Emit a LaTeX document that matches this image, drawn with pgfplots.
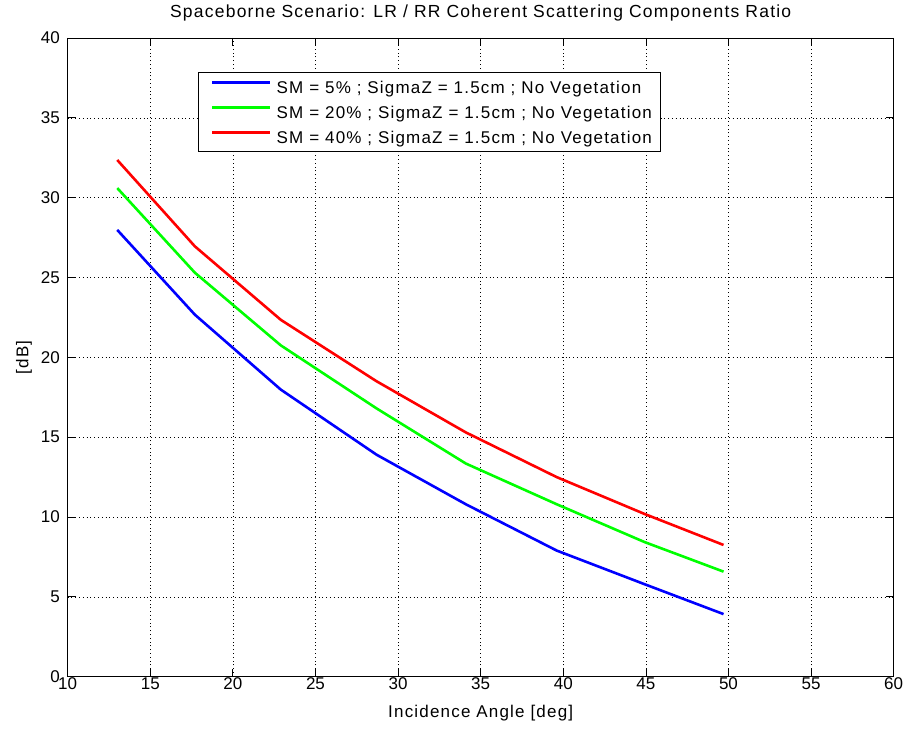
\documentclass[border=0pt]{standalone}
\usepackage{fontspec}
\setmainfont{Liberation Sans}
\newfontfamily\mfont[LetterSpace=7.0]{Liberation Sans}
\usepackage{pgfplots}
\pgfplotsset{compat=1.18}
\begin{document}
\begin{tikzpicture}
\path[use as bounding box] (-67.7pt,-54.3pt) rectangle (835.3pt,676.7pt);
\begin{axis}[
  scale only axis,
  at={(0pt,0pt)}, anchor=south west,
  width=826pt, height=638.7pt,
  xmin=10, xmax=60, ymin=0, ymax=40,
  xtick distance=5, ytick distance=5,
  /pgf/number format/assume math mode=true,
  tick label style={font=\fontsize{17pt}{20pt}\selectfont, inner sep=0pt},
  xticklabel style={yshift=-1pt},
  yticklabel style={xshift=-7.7pt},
  title style={font=\mfont\fontsize{17.5pt}{20pt}\selectfont, inner sep=0pt,
    at={(axis description cs:0.5,1)}, anchor=base, yshift=14.7pt},
  xlabel style={font=\mfont\fontsize{17pt}{20pt}\selectfont, inner sep=0pt,
    at={(axis description cs:0.5,0)}, anchor=base, yshift=-40.6pt},
  ylabel style={font=\mfont\fontsize{17pt}{20pt}\selectfont, inner sep=0pt,
    at={(axis description cs:0,0.5)}, anchor=base, yshift=39.4pt},
  title={Spaceborne Scenario: LR / RR Coherent Scattering Components Ratio},
  xlabel={Incidence Angle [deg]},
  ylabel={[dB]},
  grid=major,
  grid style={black, line width=0.6pt, dash pattern=on 0.8pt off 3pt},
  tick align=inside,
  major tick length=8pt,
  axis line style={black, line width=0.8pt},
  tick style={black, line width=0.8pt},
  legend style={at={(0.158,0.947)}, anchor=north west, draw=black, line width=0.8pt,
    font=\mfont\fontsize{17pt}{20pt}\selectfont, row sep=11pt, column sep=5pt,
    inner xsep=9pt, inner ysep=7.5pt,
    nodes={inner sep=0pt, text height=14pt, text depth=0pt}},
  legend cell align=left,
  legend image code/.code={\path (-3.4pt,0pt); \draw[#1, line width=2.8pt] (0pt,4.5pt) -- (58pt,4.5pt);},
]
\addplot[blue, line width=2.6pt] coordinates {
(13.0,27.98) (17.7,22.67) (22.9,17.98) (28.7,13.9) (34.1,10.8) (39.6,7.9) (44.9,5.8) (49.7,3.92)};
\addlegendentry{SM = 5\% ; SigmaZ = 1.5cm ; No Vegetation}
\addplot[green, line width=2.6pt] coordinates {
(13.0,30.6) (17.7,25.3) (22.9,20.75) (28.7,16.8) (34.1,13.35) (39.6,10.8) (44.9,8.44) (49.7,6.58)};
\addlegendentry{SM = 20\% ; SigmaZ = 1.5cm ; No Vegetation}
\addplot[red, line width=2.6pt] coordinates {
(13.0,32.36) (17.7,26.95) (22.9,22.35) (28.7,18.5) (34.1,15.3) (39.6,12.5) (44.9,10.2) (49.7,8.25)};
\addlegendentry{SM = 40\% ; SigmaZ = 1.5cm ; No Vegetation}
\end{axis}
\end{tikzpicture}
\end{document}
